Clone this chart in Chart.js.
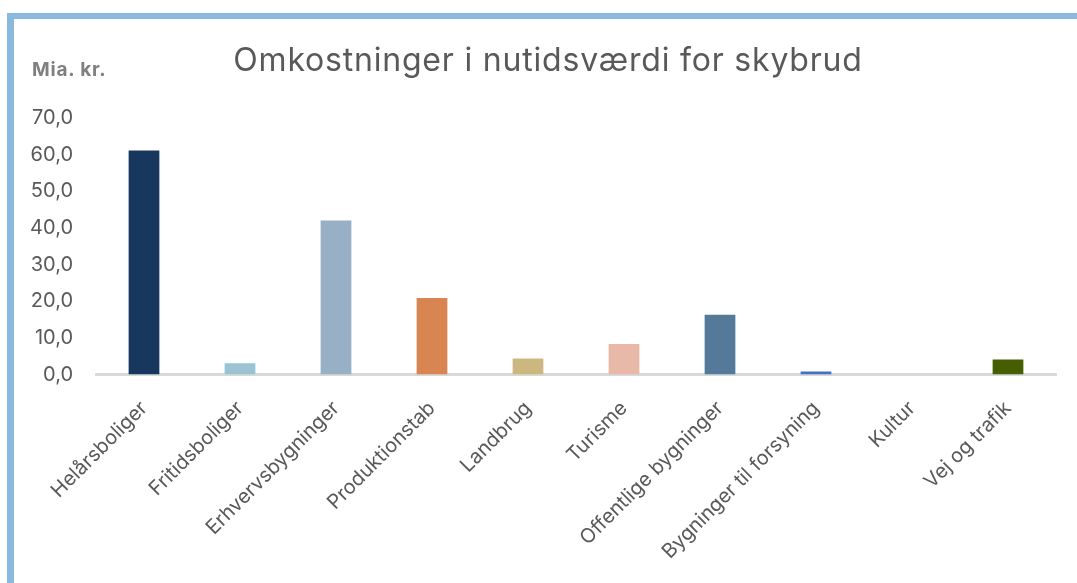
<!DOCTYPE html>
<html>
<head>
<meta charset="utf-8">
<script src="https://cdn.jsdelivr.net/npm/chart.js@4.4.1/dist/chart.umd.min.js"></script>
<style>
  html, body { margin: 0; padding: 0; background: #fff; }
  body { width: 1077px; height: 583px; position: relative; overflow: hidden; font-family: Inter, "Open Sans", sans-serif; }
  #frame { position: absolute; left: 7px; top: 13px; right: 0; bottom: 0; border-left: 7px solid #8ab9e0; border-top: 6px solid #8ab9e0; }
  #wrap { position: absolute; left: 0; top: 0; width: 1077px; height: 583px; }
  #title { position: absolute; left: 0; width: 1096px; top: 40px; text-align: center; font-size: 32px; letter-spacing: 0.8px; color: #595959; white-space: nowrap; }
  #unit { position: absolute; left: 32px; top: 58px; font-size: 19px; letter-spacing: 0.8px; font-weight: bold; color: #7f7f7f; }
</style>
</head>
<body>
<div id="frame"></div>
<div id="wrap"><canvas id="chart"></canvas></div>
<div id="title">Omkostninger i nutidsværdi for skybrud</div>
<div id="unit">Mia. kr.</div>
<script>
const categories = ['Helårsboliger', 'Fritidsboliger', 'Erhvervsbygninger', 'Produktionstab', 'Landbrug',
  'Turisme', 'Offentlige bygninger', 'Bygninger til forsyning', 'Kultur', 'Vej og trafik'];
const costs = [61.1, 3.1, 42.0, 20.9, 4.4, 8.3, 16.3, 0.8, 0, 4.1];
const barColors = ['#17375e', '#9ac3d3', '#97b0c6', '#d98552', '#cdb780', '#e8b9a8', '#54799b', '#4472c4', '#7f7f7f', '#465d00'];
const yTicks = [0, 10, 20, 30, 40, 50, 60, 70];

const ctx = document.getElementById('chart');
new Chart(ctx, {
  type: 'bar',
  data: {
    labels: categories,
    datasets: [{
      data: costs,
      backgroundColor: barColors,
      borderWidth: 0,
      categoryPercentage: 1,
      barPercentage: 0.32
    }]
  },
  options: {
    responsive: true,
    maintainAspectRatio: false,
    animation: false,
    layout: { padding: { left: 20, top: 118, right: 21, bottom: 0 } },
    plugins: { legend: { display: false }, tooltip: { enabled: false } },
    scales: {
      y: {
        min: 0,
        max: 70,
        afterBuildTicks: scale => { scale.ticks = yTicks.map(v => ({ value: v })); },
        afterFit: scale => { scale.width = 76; },
        grid: { display: false, drawTicks: false },
        border: { display: false },
        ticks: {
          padding: 23,
          color: '#595959',
          font: { family: 'Inter', size: 20 },
          callback: v => v.toFixed(1).replace('.', ',')
        }
      },
      x: {
        afterFit: scale => { scale.height = 583 - 118 - 256.5; },
        grid: { display: false, drawTicks: false },
        border: { display: true, color: '#d9d9d9', width: 3 },
        ticks: {
          padding: 22,
          minRotation: 45,
          maxRotation: 45,
          autoSkip: false,
          color: '#595959',
          font: { family: 'Inter', size: 20 }
        }
      }
    }
  }
});
</script>
</body>
</html>
